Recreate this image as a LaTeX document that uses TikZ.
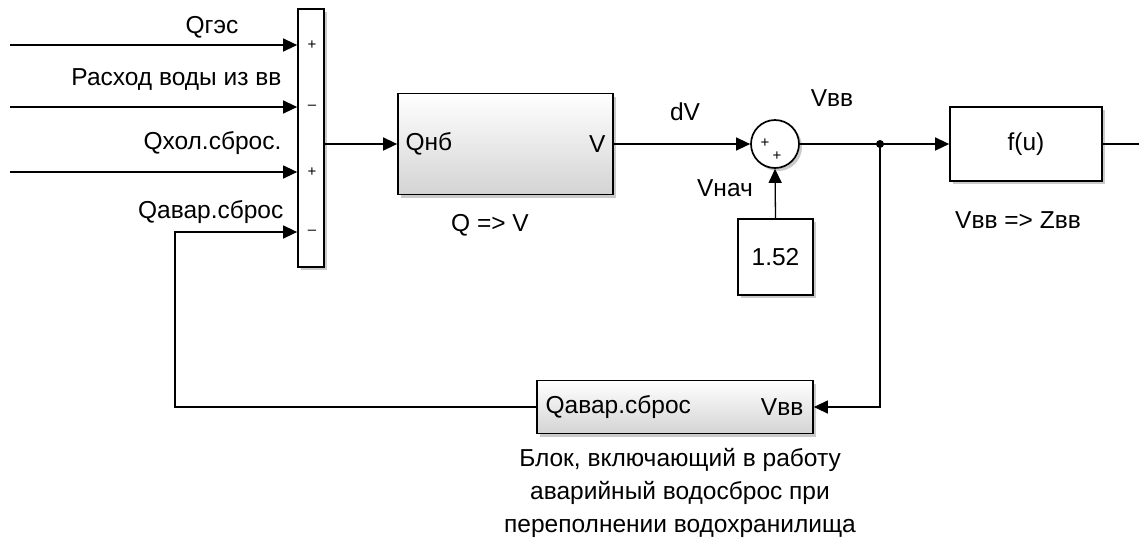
\documentclass[tikz,border=0pt]{standalone}
\usepackage{fontspec}
\setmainfont{Liberation Sans}
\usetikzlibrary{arrows.meta,shadows}
\begin{document}
\begin{tikzpicture}[x=1pt,y=-1pt,
  line width=1.3pt,
  >={Triangle[length=14pt,width=13pt]},
  every node/.style={font=\fontsize{24.5}{28}\selectfont},
  shd/.style={drop shadow={shadow xshift=3pt,shadow yshift=-3pt,opacity=0.35,fill=black!60}},
  blk/.style={draw,line width=1.7pt,fill=white,inner sep=0pt,shd},
  gblk/.style={blk,top color=white,bottom color=black!17},
  sgn/.style={font=\fontsize{15}{16}\selectfont,inner sep=0pt},
  lbl/.style={inner sep=0pt},
]
\useasboundingbox (0,0) rectangle (1147,542);

% blocks
\node[blk,minimum width=26pt,minimum height=258pt] (sum) at (311,138) {};
\node[gblk,minimum width=215pt,minimum height=101pt] (qv) at (505.5,144) {};
\node[blk,circle,minimum size=48pt] (add) at (775,144) {};
\node[blk,minimum width=75pt,minimum height=76pt] (const) at (775.5,257) {1.52};
\node[blk,minimum width=152pt,minimum height=74pt] (fu) at (1026,144) {f(u)};
\node[gblk,minimum width=276pt,minimum height=53pt] (bot) at (675,407) {};

% inputs
\coordinate (i1) at (10,45);
\coordinate (i2) at (10,107);
\coordinate (i3) at (10,172);
\coordinate (i4) at (175,232);
\draw[->] (i1) -- (sum.west |- i1);
\draw[->] (i2) -- (sum.west |- i2);
\draw[->] (i3) -- (sum.west |- i3);

% signs
\node[sgn] (s1) at (312,45) {+};
\node[sgn] (s2) at (312,107) {--};
\node[sgn] (s3) at (312,172) {+};
\node[sgn] (s4) at (312,232) {--};
\node[sgn] (p1) at (765,143) {+};
\node[sgn] (p2) at (777,156) {+};

% main path
\coordinate (so) at (324,144);
\draw[->] (so) -- (qv.west);
\draw[->] (qv.east) -- (add.west);
\draw[->] (const.north) -- (add.south);
\coordinate (dot) at (880,144);
\draw (add.east) -- (dot);
\draw[->] (dot) -- (fu.west);
\fill (dot) circle (4pt);
\coordinate (out) at (1139,144);
\draw (fu.east) -- (out);

% feedback
\coordinate (d2) at (880,407);
\draw[->] (dot) -- (d2) -- (bot.east);
\coordinate (c1) at (175,407);
\draw[->] (bot.west) -- (c1) -- (i4) -- (sum.west |- i4);

% labels
\node[lbl] (l1) at (212,27) {Qгэс};
\node[lbl,anchor=east] (l2) at (282,80) {Расход воды из вв};
\node[lbl,anchor=east] (l3) at (282,143) {Qхол.сброс.};
\node[lbl,anchor=east] (l4) at (284,212) {Qавар.сброс};
\node[lbl,anchor=west] (qin) at (405,144) {Qнб};
\node[lbl,anchor=east] (vout) at (606,144) {V};
\node[lbl] (qvn) at (490,225) {Q => V};
\node[lbl] (dv) at (685,112) {dV};
\node[lbl] (vbb) at (832,98) {Vвв};
\node[lbl] (vn) at (725,188) {Vнач};
\node[lbl] (fun) at (1018,220) {Vвв => Zвв};
\node[lbl,anchor=west] (bin) at (545,407) {Qавар.сброс};
\node[lbl,anchor=east] (bout) at (804,407) {Vвв};
\node[lbl,align=center,font=\fontsize{24.5}{33}\selectfont] (desc) at (680,493) {Блок, включающий в работу\\аварийный водосброс при\\переполнении водохранилища};
\end{tikzpicture}
\end{document}
